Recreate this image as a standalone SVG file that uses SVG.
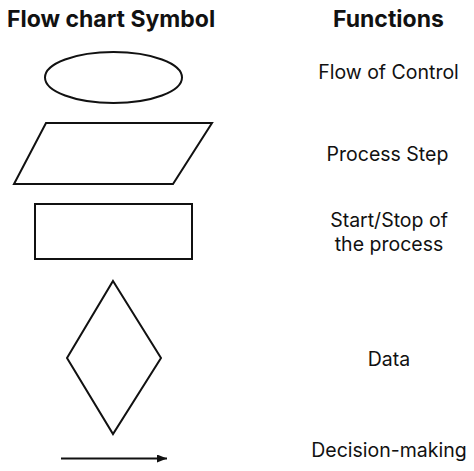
<svg xmlns="http://www.w3.org/2000/svg" width="474" height="471" viewBox="0 0 474 471">
<style>
.t{font-family:Inter,"Liberation Sans",sans-serif;fill:#111;}
.h{font-size:23px;font-weight:700;}
.l{font-size:19.5px;font-weight:400;text-anchor:middle;}
.s{fill:#fff;stroke:#111;stroke-width:2;}
</style>
<defs>
<marker id="ah" markerWidth="10" markerHeight="10" refX="10" refY="4" orient="auto" markerUnits="userSpaceOnUse">
<path d="M0,0 L10,4 L0,8 Z" fill="#111"/>
</marker>
</defs>
<rect width="474" height="471" fill="#fff"/>
<g id="headers">
<text class="t h" x="7" y="27">Flow chart Symbol</text>
<text class="t h" x="333" y="27">Functions</text>
</g>
<g id="ellipse"><ellipse class="s" cx="113.5" cy="77.5" rx="68.5" ry="25.5"/></g>
<g id="parallelogram"><polygon class="s" points="46,123 212,123 173,184 14,184"/></g>
<g id="rectangle"><rect class="s" x="35" y="204" width="157" height="55"/></g>
<g id="diamond"><polygon class="s" points="113,281 161,358 113,434 67,358"/></g>
<g id="labels">
<text class="t l" x="388.5" y="78.5">Flow of Control</text>
<text class="t l" x="387.5" y="161">Process Step</text>
<text class="t l" x="389" y="227">Start/Stop of</text>
<text class="t l" x="389" y="251">the process</text>
<text class="t l" x="389" y="365.5">Data</text>
<text class="t l" x="389" y="456.5">Decision-making</text>
</g>
<g id="connectors">
<line x1="61" y1="458.5" x2="167" y2="458.5" stroke="#111" stroke-width="2" marker-end="url(#ah)"/>
</g>
</svg>
